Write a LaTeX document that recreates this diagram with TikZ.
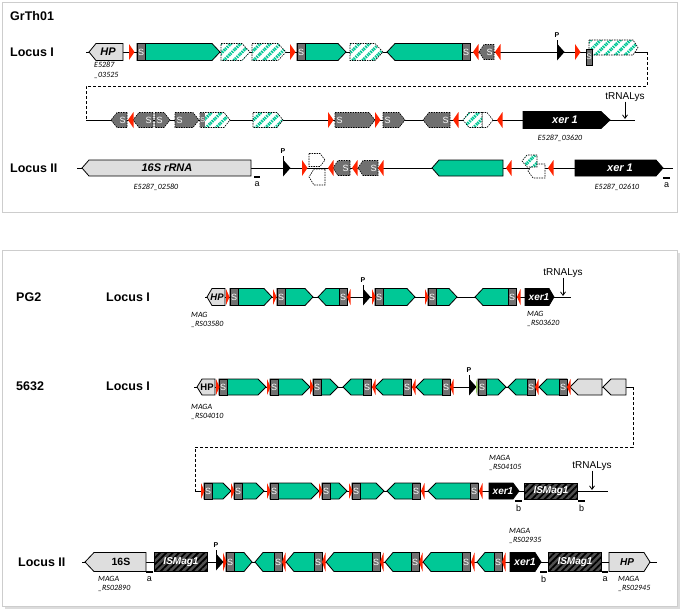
\documentclass[tikz,border=0pt]{standalone}
\usepackage{fontspec}
\setmainfont{Liberation Sans}
\newfontfamily\idfont{Carlito}
\usetikzlibrary{arrows.meta,patterns.meta}

\definecolor{genegreen}{RGB}{0,200,150}
\definecolor{sgray}{RGB}{112,112,112}
\definecolor{palegray}{RGB}{222,222,222}
\definecolor{isgray}{RGB}{80,80,80}
\definecolor{irred}{RGB}{255,35,0}
\definecolor{irgreen}{RGB}{150,205,90}
\definecolor{panelgray}{RGB}{205,205,205}

\tikzset{
	backbone/.style={line width=0.9pt},
	linkline/.style={line width=0.8pt, dash pattern=on 3pt off 2pt},
	tealgene/.style={draw=black, line width=0.8pt, fill=genegreen},
	lightgene/.style={draw=black, line width=0.8pt, fill=palegray},
	blackgene/.style={draw=black, line width=0.8pt, fill=black},
	graygene/.style={draw=black, line width=0.6pt, dash pattern=on 1.5pt off 1pt, fill=sgray},
	emptygene/.style={draw=black, line width=0.6pt, dash pattern=on 1.5pt off 1pt, fill=white},
	hatchgene/.style={draw=black, line width=0.6pt, dash pattern=on 1.5pt off 1pt, preaction={fill=white},
		pattern={Lines[angle=45,distance=7pt,line width=3pt]}, pattern color=genegreen},
	isgene/.style={draw=black, line width=0.8pt, preaction={fill=isgray},
		pattern={Lines[angle=45,distance=4.5pt,line width=1.8pt]}, pattern color=black},
	sbox/.style={draw=black, line width=0.6pt, fill=sgray},
	irsite/.style={fill=irred},
	stext/.style={text=white, inner sep=0, font=\fontsize{9}{9}\selectfont},
	genename/.style={inner sep=0, font=\bfseries\itshape\fontsize{11}{11}\selectfont},
	rowname/.style={anchor=west, inner sep=0, font=\bfseries\fontsize{12.5}{14}\selectfont},
	locusid/.style={anchor=north west, align=left, inner sep=0, font=\idfont\itshape\fontsize{8}{9.5}\selectfont},
	trna/.style={inner sep=0, font=\fontsize{10}{10}\selectfont},
	trnaarrow/.style={line width=0.8pt, -{Straight Barb[length=3.5pt,width=5pt]}},
	ptext/.style={inner sep=0, font=\bfseries\fontsize{7}{7}\selectfont},
	bartext/.style={inner sep=0, font=\fontsize{9}{9}\selectfont},
	panel/.style={draw=panelgray, line width=0.8pt}
}

\def\geneh{8.5}
\def\genet{8}
\def\sitew{5.5}
\def\siteh{8}
\newcommand{\geneR}[4][tealgene]{\draw[#1] (#2,#4-\geneh) -- (#3-\genet,#4-\geneh) -- (#3,#4) -- (#3-\genet,#4+\geneh) -- (#2,#4+\geneh) -- cycle;}
\newcommand{\geneL}[4][tealgene]{\draw[#1] (#3,#4-\geneh) -- (#2+\genet,#4-\geneh) -- (#2,#4) -- (#2+\genet,#4+\geneh) -- (#3,#4+\geneh) -- cycle;}
\newcommand{\sgeneR}[3]{\geneR{#1}{#2}{#3}\draw[sbox] (#1,#3-\geneh) rectangle (#1+8,#3+\geneh); \node[stext] at (#1+4,#3) {S};}
\newcommand{\sgeneL}[3]{\geneL{#1}{#2}{#3}\draw[sbox] (#2-8,#3-\geneh) rectangle (#2,#3+\geneh); \node[stext] at (#2-4,#3) {S};}
\newcommand{\ggeneR}[3]{\geneR[graygene]{#1}{#2}{#3}\node[stext] at (#1+4.5,#3) {S};}
\newcommand{\ggeneL}[3]{\geneL[graygene]{#1}{#2}{#3}\node[stext] at (#2-4.5,#3) {S};}
\newcommand{\siteR}[2]{\fill[irsite] (#1,#2-\siteh) -- (#1+\sitew,#2) -- (#1,#2+\siteh) -- cycle;}
\newcommand{\siteL}[2]{\fill[irsite] (#1+\sitew,#2-\siteh) -- (#1,#2) -- (#1+\sitew,#2+\siteh) -- cycle;}
\newcommand{\promoter}[2]{\draw[line width=0.8pt] (#1,#2-12) -- (#1,#2); \fill (#1,#2-8.5) -- (#1+7.5,#2) -- (#1,#2+8.5) -- cycle; \node[ptext] at (#1,#2-17) {P};}
\newcommand{\scalebar}[4]{\draw[line width=1.8pt] (#1,#3) -- (#2,#3); \node[bartext] at ({(#1+#2)/2},#3+7.5) {#4};}

\begin{document}
\begin{tikzpicture}[x=1pt,y=-1pt]
	%\draw[help lines] (0,0) grid (685,611);
	\useasboundingbox (0,0) rectangle (685,611);
	
	% GrTh01
	\draw[panel] (2,2) rectangle (677,212);
	\node[rowname] (grth) at (10,16) {GrTh01};
	\node[rowname] (grthI) at (10,52) {Locus I};
	\node[rowname] (grthII) at (10,168) {Locus II};
	
	\coordinate (a1) at (86,52); \coordinate (a2) at (647,52);
	\coordinate (j1) at (86,86);
	\coordinate (a3) at (86,120); \coordinate (a4) at (635,120);
	\draw[backbone] (a1) -- (a2);
	\draw[linkline] (a2) |- (j1) -- (a3);
	\draw[backbone] (a3) -- (a4);
	
	\begin{scope}
		\def\genet{7}
		\geneL[lightgene]{89}{123}{52}
	\end{scope}
	\node[genename] (hpA) at (108,52) {HP};
	\node[locusid] (idA) at (94,62) {E5287\\\_03525};
	\foreach \x in {129,290,575} {\siteR{\x}{52}}
	\foreach \x in {473,495} {\siteL{\x}{52}}
	\sgeneR{137}{220}{52}
	\sgeneR{297}{346}{52}
	\sgeneL{387}{470}{52}
	\foreach \a/\b in {221/250,252/286,350/383} {\geneR[hatchgene]{\a}{\b}{52}}
	\begin{scope}
		\def\geneh{7.5}\def\genet{5}
		\ggeneL{479}{494}{52}
		\geneR[hatchgene]{589}{638}{47.5}
	\end{scope}
	\draw[sbox] (586,49) rectangle (592,65);
	\node[stext, font=\fontsize{8}{8}\selectfont] at (589,57) {S};
	\promoter{557}{52}
	
	\begin{scope}
		\def\geneh{7.5}\def\genet{6}
		\ggeneL{111}{127}{120}
		\ggeneL{133}{153}{120}
		\ggeneR{155}{170}{120}
		\ggeneR{175}{199}{120}
		\geneR[hatchgene]{200}{230}{120}
		\geneR[hatchgene]{253}{283}{120}
		\ggeneR{335}{375}{120}
		\ggeneR{383}{405}{120}
		\ggeneL{423}{450}{120}
		\geneR[emptygene]{482}{493}{120}
		\geneL[hatchgene]{463}{482}{120}
	\end{scope}
	\fill[sgray] (200.3,112.8) rectangle (205,127.2);
	\node[stext, font=\fontsize{7}{7}\selectfont] at (202.6,120) {S};
	\foreach \x in {128,453,497} {\siteL{\x}{120}}
	\foreach \x in {328,375} {\siteR{\x}{120}}
	\begin{scope}
		\def\genet{9}
		\geneR[blackgene]{523}{610}{120}
	\end{scope}
	\node[genename, text=white] (xerA) at (565,120) {xer 1};
	\node[locusid, anchor=center] (idB) at (560,138) {E5287\_03620};
	\node[trna] (trnaA) at (625,97) {tRNALys};
	\coordinate (tA) at (625,119);
	\draw[trnaarrow] (trnaA.south) -- (tA);
	
	\coordinate (c1) at (77,168); \coordinate (c2) at (673,168);
	\draw[backbone] (c1) -- (c2);
	\begin{scope}
		\def\geneh{8}\def\genet{7}
		\geneL[lightgene]{82}{251}{168}
		\geneL{432}{503}{168}
		\geneR[blackgene]{575}{663}{168}
	\end{scope}
	\node[genename] (rrnaA) at (167,168) {16S rRNA};
	\node[genename, text=white] (xerB) at (620,168) {xer 1};
	\node[locusid, anchor=center] (idC) at (156,187) {E5287\_02580};
	\node[locusid, anchor=center] (idD) at (617,187) {E5287\_02610};
	\promoter{283}{168}
	\siteR{302}{168}
	\begin{scope}
		\def\genet{5}
		\def\geneh{8}\geneL[emptygene]{309}{325}{177}
		\def\geneh{6.5}\geneR[emptygene]{309}{325}{160}
		\def\geneh{7.5}
		\ggeneL{333}{350}{168}
		\ggeneL{358}{378}{168}
		\def\geneh{7}\geneL[emptygene]{528}{545}{171}
		\def\geneh{6}\geneL[hatchgene]{522}{537}{161}
	\end{scope}
	\foreach \x in {328,352,378,506,548} {\siteL{\x}{168}}
	\scalebar{254}{260}{177}{a}
	\scalebar{663}{670}{178}{a}
	
	% MAG strains
	\fill[panelgray!70] (5,253) rectangle (680,609);
	\draw[panel, fill=white] (2,250) rectangle (677,606);
	\node[rowname] (pg) at (16,297) {PG2};
	\node[rowname] (pgI) at (106,297) {Locus I};
	\node[rowname] (mg) at (16,386) {5632};
	\node[rowname] (mgI) at (106,386) {Locus I};
	\node[rowname] (mgII) at (18,562) {Locus II};
	
	\def\sitew{3.5}
	\coordinate (d1) at (205,297); \coordinate (d2) at (571,297);
	\draw[backbone] (d1) -- (d2);
	\begin{scope}
		\def\genet{5}
		\geneL[lightgene]{207}{225}{297}
		\geneR[blackgene]{525}{554}{297}
	\end{scope}
	\node[genename, font=\bfseries\itshape\fontsize{9.5}{9.5}\selectfont] (hpB) at (217,297) {HP};
	\node[genename, text=white, font=\bfseries\itshape\fontsize{10}{10}\selectfont] (xerC) at (539,297) {xer1};
	\foreach \a/\b in {230/272,277/313,375/415,428/457} {\sgeneR{\a}{\b}{297}}
	\foreach \a/\b in {318/347,475/516} {\sgeneL{\a}{\b}{297}}
	\foreach \x in {226,273,372,425} {\siteR{\x}{297}}
	\foreach \x in {347,517} {\siteL{\x}{297}}
	\promoter{363}{297}
	\node[trna] (trnaB) at (563,273) {tRNALys};
	\coordinate (tB) at (563,296);
	\draw[trnaarrow] (trnaB.south) -- (tB);
	\node[locusid] (idE) at (191,312) {MAG\\\_RS03580};
	\node[locusid] (idF) at (527,311) {MAG\\\_RS03620};
	
	\coordinate (e1) at (194,387); \coordinate (e2) at (633,387);
	\coordinate (j2) at (195,447);
	\coordinate (e3) at (195,491); \coordinate (e4) at (608,491);
	\draw[backbone] (e1) -- (e2);
	\draw[linkline] (e2) |- (j2) -- (e3);
	\draw[backbone] (e3) -- (e4);
	\begin{scope}
		\def\geneh{8}
		\begin{scope}
			\def\genet{5}
			\geneL[lightgene]{197}{215}{387}
		\end{scope}
		\node[genename, font=\bfseries\fontsize{9.5}{9.5}\selectfont] (hpC) at (207,387) {HP};
		\foreach \a/\b in {219/266,270/310,313/338,478/506} {\sgeneR{\a}{\b}{387}}
		\foreach \a/\b in {343/371,375/411,416/450,508/535,539/567} {\sgeneL{\a}{\b}{387}}
		\foreach \a/\b in {570/602,603/626} {\geneL[lightgene]{\a}{\b}{387}}
		\foreach \x in {216,267,310} {\siteR{\x}{387}}
		\foreach \x in {372,412,450,535,567} {\siteL{\x}{387}}
		\promoter{469}{387}
		\fill[irgreen] (476,379) -- (478,387) -- (476,395) -- cycle;
		
		\foreach \a/\b in {204/231,234/264,270/319,322/347,352/384} {\sgeneR{\a}{\b}{491}}
		\foreach \a/\b in {387/420,428/478} {\sgeneL{\a}{\b}{491}}
		\foreach \x in {201,231,267,319,349} {\siteR{\x}{491}}
		\foreach \x in {421,479} {\siteL{\x}{491}}
		\begin{scope}
			\def\genet{6}
			\geneR[blackgene]{489}{519}{491}
		\end{scope}
		\draw[isgene] (524,483) rectangle (577,499);
	\end{scope}
	\node[locusid] (idG) at (191,404) {MAGA\\\_RS04010};
	\node[genename, text=white, font=\bfseries\itshape\fontsize{10}{10}\selectfont] (xerD) at (503,491) {xer1};
	\node[genename, text=white, font=\bfseries\itshape\fontsize{10}{10}\selectfont] (isA) at (551,491) {ISMag1};
	\node[locusid] (idH) at (489,455) {MAGA\\\_RS04105};
	\node[trna] (trnaC) at (592,466) {tRNALys};
	\coordinate (tC) at (592,490);
	\draw[trnaarrow] (trnaC.south) -- (tC);
	\scalebar{515}{522}{501}{b}
	\scalebar{578}{585}{501}{b}
	
	\coordinate (f1) at (82,562); \coordinate (f2) at (657,562);
	\draw[backbone] (f1) -- (f2);
	\begin{scope}
		\def\geneh{9.5}\def\siteh{9.5}
		\begin{scope}
			\def\genet{9}
			\geneL[lightgene]{85}{146}{562}
		\end{scope}
		\draw[isgene] (154,552.5) rectangle (207,571.5);
		\draw[isgene] (548,552.5) rectangle (601,571.5);
		\sgeneR{226}{252}{562}
		\foreach \a/\b in {255/282,286/322,326/380,385/419,423/470,477/502} {\sgeneL{\a}{\b}{562}}
		\siteR{223}{562}
		\foreach \x in {282,322,380,419,471,502} {\siteL{\x}{562}}
		\begin{scope}
			\def\genet{6}
			\geneR[blackgene]{510}{541}{562}
			\geneR[lightgene]{609}{650}{562}
		\end{scope}
	\end{scope}
	\promoter{216}{562}
	\node[genename, font=\bfseries\fontsize{10.5}{10.5}\selectfont] (rrnaB) at (121,562) {16S};
	\node[genename, text=white, font=\bfseries\itshape\fontsize{10}{10}\selectfont] (isB) at (181,562) {ISMag1};
	\node[genename, text=white, font=\bfseries\itshape\fontsize{10.5}{10.5}\selectfont] (xerE) at (525,562) {xer1};
	\node[genename, text=white, font=\bfseries\itshape\fontsize{10}{10}\selectfont] (isC) at (575,562) {ISMag1};
	\node[genename, font=\bfseries\itshape\fontsize{10}{10}\selectfont] (hpD) at (627,562) {HP};
	\node[locusid] (idI) at (98,576) {MAGA\\\_RS02890};
	\node[locusid] (idJ) at (509,528) {MAGA\\\_RS02935};
	\node[locusid] (idK) at (618,576) {MAGA\\\_RS02945};
	\scalebar{146}{153}{572}{a}
	\scalebar{540}{547}{572}{b}
	\scalebar{602}{608}{572}{a}
\end{tikzpicture}
\end{document}
